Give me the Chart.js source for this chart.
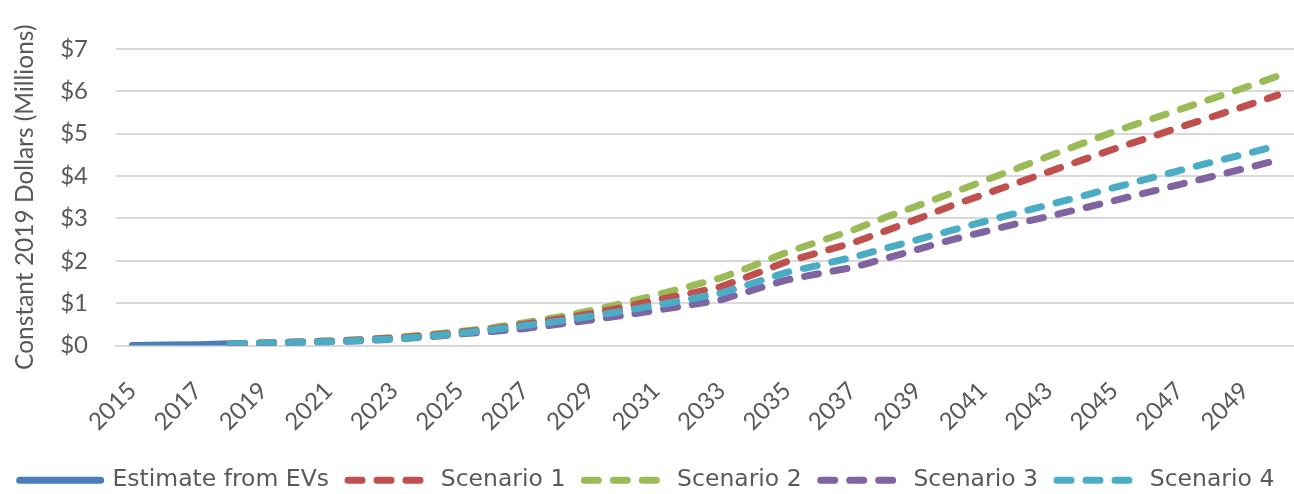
<!DOCTYPE html>
<html>
<head>
<meta charset="utf-8">
<script src="https://cdn.jsdelivr.net/npm/chart.js@4"></script>
<style>
html,body{margin:0;padding:0;background:#fff;}
#wrap{width:1294px;height:494px;position:relative;}
</style>
</head>
<body>
<div id="wrap"><canvas id="c"></canvas></div>
<script>
const years = [];
for (let y = 2015; y <= 2050; y++) years.push(String(y));

const estimateEVs = [0.00, 0.01, 0.02, 0.04];
const scenario1 = [0.04,0.06,0.08,0.10,0.13,0.18,0.23,0.31,0.39,0.50,0.62,0.75,0.90,1.07,1.22,1.39,1.68,1.98,2.20,2.42,2.70,2.99,3.29,3.56,3.83,4.10,4.37,4.64,4.89,5.15,5.40,5.65,5.91];
const scenario2 = [0.04,0.06,0.08,0.11,0.14,0.19,0.25,0.33,0.42,0.54,0.67,0.82,1.00,1.19,1.39,1.60,1.89,2.20,2.46,2.72,3.02,3.30,3.59,3.88,4.17,4.47,4.76,5.05,5.31,5.57,5.83,6.09,6.36];
const scenario3 = [0.04,0.05,0.07,0.09,0.11,0.15,0.20,0.27,0.33,0.40,0.50,0.60,0.71,0.83,0.95,1.08,1.32,1.55,1.70,1.84,2.05,2.27,2.49,2.68,2.87,3.05,3.23,3.42,3.61,3.80,3.99,4.18,4.38];
const scenario4 = [0.04,0.05,0.07,0.09,0.12,0.16,0.21,0.29,0.37,0.47,0.57,0.69,0.81,0.95,1.09,1.24,1.48,1.73,1.90,2.08,2.29,2.50,2.71,2.92,3.12,3.32,3.52,3.73,3.93,4.13,4.33,4.52,4.72];
const yTicks = [0,1,2,3,4,5,6,7];

const pad = (arr, lead) => Array(lead).fill(null).concat(arr);
const scenStart = 3; // 2018

const FONT = 'Lato, "Open Sans", sans-serif';
const LEGEND_FONT = '"DejaVu Sans", sans-serif';
const GREY = '#595959';
const DASH = [14, 15];

function ds(label, data, color, dashed, order) {
  return {
    label, data,
    borderColor: color, backgroundColor: color,
    borderWidth: 7,
    borderDash: dashed ? DASH : [],
    borderCapStyle: 'round',
    borderJoinStyle: 'round',
    pointRadius: 0, pointHoverRadius: 0,
    tension: 0, spanGaps: false,
    pointStyle: 'line',
    order
  };
}

new Chart(document.getElementById('c'), {
  type: 'line',
  data: {
    labels: years,
    datasets: [
      ds('Estimate from EVs', estimateEVs.concat(Array(years.length - estimateEVs.length).fill(null)), '#4a7ebb', false, 5),
      ds('Scenario 1', pad(scenario1, scenStart), '#c0504d', true, 3),
      ds('Scenario 2', pad(scenario2, scenStart), '#9bbb59', true, 4),
      ds('Scenario 3', pad(scenario3, scenStart), '#8064a2', true, 2),
      ds('Scenario 4', pad(scenario4, scenStart), '#4bacc6', true, 1)
    ]
  },
  options: {
    responsive: true, maintainAspectRatio: false, animation: false,
    devicePixelRatio: 1,
    layout: { padding: { top: 49, right: 0, left: 0, bottom: -8 } },
    plugins: {
      tooltip: { enabled: false },
      legend: {
        position: 'bottom',
        labels: {
          usePointStyle: true,
          pointStyleWidth: 81,
          boxHeight: 7,
          color: GREY,
          font: { family: LEGEND_FONT, size: 23.5 },
          padding: 19,
          sort: (a, b) => a.datasetIndex - b.datasetIndex,
          generateLabels: chart => Chart.defaults.plugins.legend.labels.generateLabels(chart).map(l => {
            const d = chart.data.datasets[l.datasetIndex];
            l.lineDash = d.borderDash;
            l.lineCap = 'round';
            l.lineWidth = 7;
            l.strokeStyle = d.borderColor;
            return l;
          })
        }
      }
    },
    scales: {
      x: {
        offset: true,
        grid: { display: false },
        border: { display: true, color: '#d9d9d9', width: 2 },
        ticks: {
          autoSkip: false, minRotation: 45, maxRotation: 45, padding: 23,
          color: GREY, font: { family: FONT, size: 24 },
          callback: function(v, i) { return i % 2 === 0 ? this.getLabelForValue(v) : ''; }
        },
        afterFit: s => { s.height = 104; s.paddingRight = 0; s.paddingLeft = 0; }
      },
      y: {
        min: 0, max: 7,
        afterBuildTicks: s => { s.ticks = yTicks.map(v => ({ value: v })); },
        grid: { color: '#d9d9d9', lineWidth: 2, drawTicks: false },
        border: { display: false },
        ticks: {
          color: GREY, font: { family: FONT, size: 24 }, padding: 28,
          callback: v => '$' + v
        },
        title: {
          display: true, text: 'Constant 2019 Dollars (Millions)',
          color: GREY, font: { family: FONT, size: 24.5 }, padding: { top: 10, bottom: 0 }
        },
        afterFit: s => { s.width = 116; }
      }
    }
  }
});
</script>
</body>
</html>
